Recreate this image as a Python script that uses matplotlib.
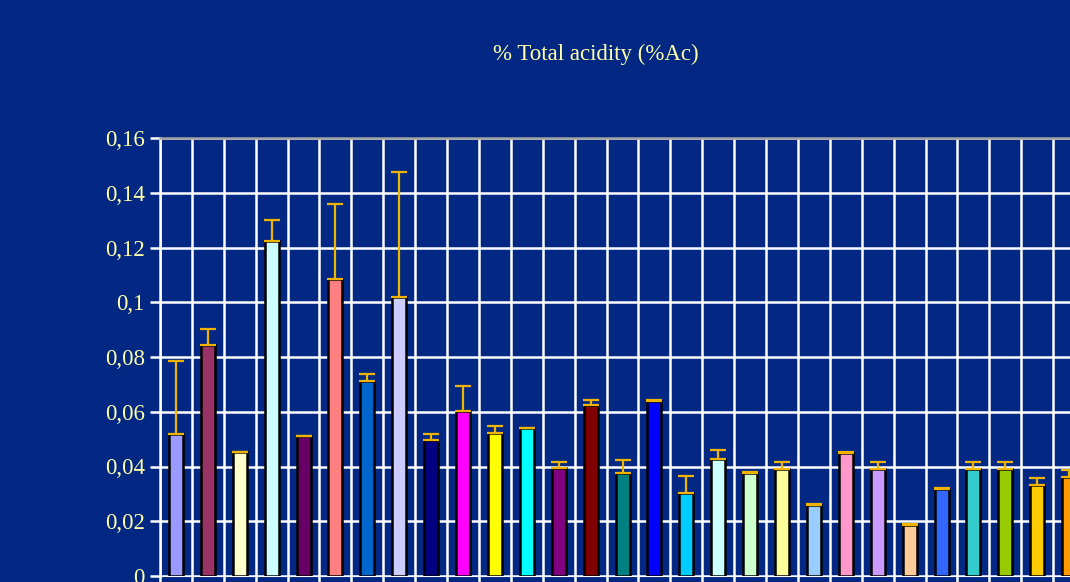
import matplotlib
matplotlib.use("Agg")
import matplotlib.pyplot as plt
import numpy as np

values = [0.0518, 0.0845, 0.0452, 0.1225, 0.0510, 0.1086, 0.0714, 0.1020, 0.0495,
          0.0603, 0.0524, 0.0540, 0.0393, 0.0625, 0.0377, 0.0641, 0.0304, 0.0428,
          0.0378, 0.0391, 0.0261, 0.0451, 0.0391, 0.0188, 0.0319, 0.0391, 0.0391,
          0.0332, 0.0362]
upper_err = [0.0269, 0.0059, 0.0002, 0.0075, 0.0002, 0.0273, 0.0024, 0.0456, 0.0024,
             0.0091, 0.0025, 0.0002, 0.0023, 0.0019, 0.0046, 0.0002, 0.0060, 0.0032,
             0.0002, 0.0025, 0.0002, 0.0002, 0.0025, 0.0002, 0.0002, 0.0025, 0.0025,
             0.0025, 0.0024]
colors = ['#9999FF', '#993366', '#FFFFCC', '#CCFFFF', '#660066', '#FF8080', '#0066CC',
          '#CCCCFF', '#000080', '#FF00FF', '#FFFF00', '#00FFFF', '#800080', '#800000',
          '#008080', '#0000FF', '#00CCFF', '#CCFFFF', '#CCFFCC', '#FFFF99', '#99CCFF',
          '#FF99CC', '#CC99FF', '#FFCC99', '#3366FF', '#33CCCC', '#99CC00', '#FFCC00',
          '#FF9900']
yticks = [0, 0.02, 0.04, 0.06, 0.08, 0.1, 0.12, 0.14, 0.16]
ytick_labels = ['0', '0,02', '0,04', '0,06', '0,08', '0,1', '0,12', '0,14', '0,16']
title = '% Total acidity (%Ac)'

bg = '#022884'
txt = '#FFFFAA'
W, H = 1070, 582
fig = plt.figure(figsize=(W / 100, H / 100), dpi=100, facecolor=bg)
ncat = 30
step = 31.9
ax = fig.add_axes([160 / W, 6 / H, ncat * step / W, 438 / H], facecolor=bg)

x = np.arange(len(values)) + 0.5
ax.bar(x, values, width=0.44, color=colors, edgecolor='black', linewidth=1.8, zorder=3)
ax.errorbar(x, values, yerr=[np.zeros(len(values)), upper_err], fmt='none',
            ecolor='#F0B400', elinewidth=1.6, capsize=6, capthick=1.6, zorder=4)

ax.set_xlim(0, ncat)
ax.set_ylim(0, 0.16)
ax.set_yticks(yticks)
ax.set_yticklabels(ytick_labels, family='Liberation Serif', fontsize=16.5, color=txt)
ax.set_xticks(np.arange(0, ncat + 1))
ax.set_xticklabels([])
ax.grid(True, color='white', linewidth=1.8, zorder=1)
ax.tick_params(axis='y', colors='white', length=7, width=1.8, labelcolor=txt, pad=4)
ax.tick_params(axis='x', colors='white', length=7, width=1.8)
ax.spines['left'].set_color('white')
ax.spines['left'].set_linewidth(1.8)
ax.spines['bottom'].set_color('white')
ax.spines['top'].set_color('#A0A0A0')
ax.spines['top'].set_linewidth(1.8)
ax.spines['right'].set_visible(False)

fig.text(596 / W, 1 - 54 / H, title, ha='center', va='center', family='Liberation Serif',
         fontsize=16.5, color=txt)

fig.savefig('out.png', dpi=100, facecolor=bg)
